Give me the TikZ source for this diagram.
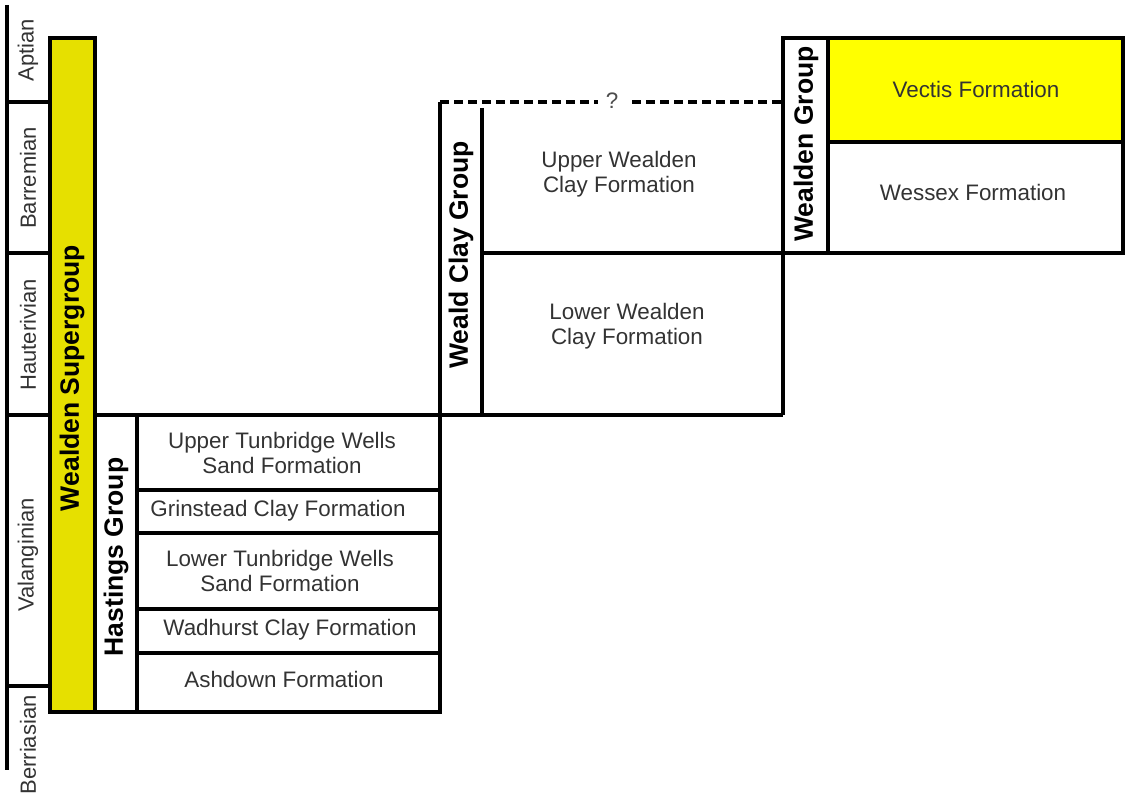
\documentclass[tikz,border=0pt]{standalone}
\usepackage{fontspec}
\setmainfont{Liberation Sans}
\definecolor{supyellow}{HTML}{E6E000}
\definecolor{vecyellow}{HTML}{FFFF00}
\tikzset{
  bline/.style={line width=3.2pt},
  dline/.style={line width=3.2pt, dash pattern=on 9pt off 5pt},
  ftext/.style={font=\fontsize{22.4}{25}\selectfont, text=black!80, align=center, inner sep=0pt},
  gtext/.style={font=\fontsize{26.5}{30}\selectfont\bfseries, rotate=90, inner sep=0pt},
  stext/.style={font=\fontsize{22}{25}\selectfont, rotate=90, text=black!80, inner sep=0pt},
}
\begin{document}
\begin{tikzpicture}[x=1pt,y=-1pt]
\useasboundingbox (0,0) rectangle (1129,799);
% stage axis
\draw[bline] (7,5) -- (7,770);
\foreach \yy in {102,253,415,686} \draw[bline] (7,\yy) -- (50,\yy);
\node[stext] (aptian) at (28,50) {Aptian};
\node[stext] (barremian) at (28,178) {Barremian};
\node[stext] (hauterivian) at (28,335) {Hauterivian};
\node[stext] (valanginian) at (28,555) {Valanginian};
\node[stext] (berriasian) at (28,745) {Berriasian};
% Wealden Supergroup
\filldraw[bline, fill=supyellow] (50,38) rectangle (95,712);
\node[gtext] (supergroup) at (72,378) {Wealden Supergroup};
% Hastings Group
\draw[bline] (95,415) rectangle (440,712);
\draw[bline] (137,415) -- (137,712);
\foreach \yy in {490,533,609,653} \draw[bline] (137,\yy) -- (440,\yy);
\node[gtext] (hastings) at (116,557) {Hastings Group};
\node[ftext] (utw) at (282,453) {Upper Tunbridge Wells\\Sand Formation};
\node[ftext] (grin) at (278,511) {Grinstead Clay Formation};
\node[ftext] (ltw) at (280,571) {Lower Tunbridge Wells\\Sand Formation};
\node[ftext] (wad) at (290,630) {Wadhurst Clay Formation};
\node[ftext] (ash) at (284,679) {Ashdown Formation};
% Weald Clay Group
\draw[bline] (95,415) -- (783,415);
\draw[bline] (440,102) -- (440,415);
\draw[bline] (482,108) -- (482,415);
\draw[bline] (783,38) -- (783,415);
\draw[bline] (482,253) -- (1123,253);
\node[ftext, text=black!70] (q) at (612,101) {?};
\draw[dline] (440,102) -- (598,102);
\draw[dline] (632,102) -- (783,102);
\node[gtext] (weald) at (461,255) {Weald Clay Group};
\node[ftext] (uwc) at (619,174) {Upper Wealden\\Clay Formation};
\node[ftext] (lwc) at (627,326) {Lower Wealden\\Clay Formation};
% Wealden Group
\filldraw[bline, fill=vecyellow] (828,38) rectangle (1123,142);
\draw[bline] (783,38) rectangle (1123,253);
\draw[bline] (828,38) -- (828,253);
\node[gtext] (wealden) at (806,144) {Wealden Group};
\node[ftext] (vectis) at (976,89) {Vectis Formation};
\node[ftext] (wessex) at (973,192) {Wessex Formation};
\end{tikzpicture}
\end{document}
